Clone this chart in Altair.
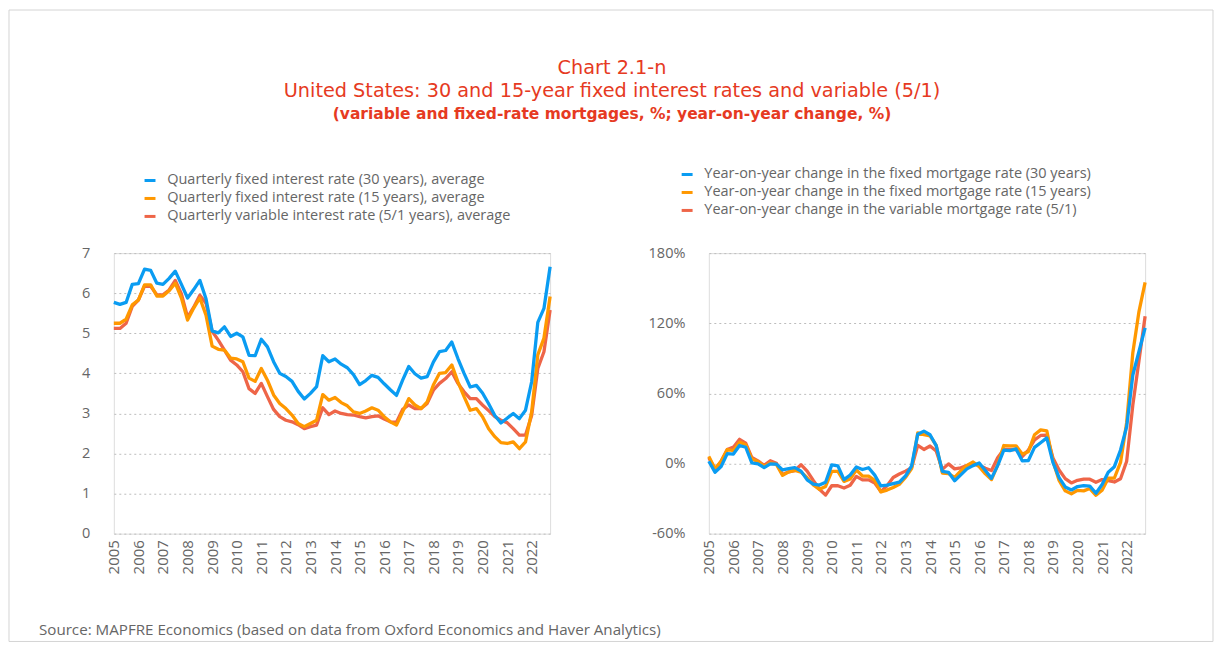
import altair as alt
import pandas as pd

years = list(range(2005, 2023))
quarters = [f"{y}Q{q}" for y in years for q in range(1, 5)]

rate30 = [5.77, 5.72, 5.77, 6.22, 6.24, 6.60, 6.57, 6.25, 6.22, 6.37, 6.55, 6.22,
          5.88, 6.09, 6.32, 5.86, 5.06, 5.01, 5.16, 4.92, 5.00, 4.91, 4.45, 4.44,
          4.85, 4.66, 4.29, 4.00, 3.92, 3.80, 3.55, 3.36, 3.50, 3.67, 4.44, 4.29,
          4.36, 4.23, 4.14, 3.97, 3.72, 3.82, 3.95, 3.90, 3.74, 3.59, 3.45, 3.83,
          4.17, 3.99, 3.88, 3.92, 4.28, 4.54, 4.57, 4.78, 4.37, 4.00, 3.66, 3.70,
          3.51, 3.24, 2.95, 2.76, 2.88, 3.00, 2.87, 3.08, 3.79, 5.27, 5.62, 6.66]
rate15 = [5.25, 5.25, 5.35, 5.71, 5.83, 6.21, 6.21, 5.93, 5.93, 6.06, 6.25, 5.88,
          5.33, 5.63, 5.88, 5.45, 4.68, 4.60, 4.58, 4.38, 4.36, 4.29, 3.88, 3.80,
          4.12, 3.83, 3.46, 3.25, 3.12, 2.96, 2.75, 2.67, 2.75, 2.83, 3.47, 3.33,
          3.40, 3.27, 3.19, 3.04, 3.00, 3.06, 3.14, 3.08, 2.92, 2.79, 2.71, 3.04,
          3.37, 3.21, 3.12, 3.29, 3.71, 4.00, 4.02, 4.21, 3.79, 3.42, 3.08, 3.12,
          2.92, 2.62, 2.42, 2.27, 2.25, 2.29, 2.12, 2.29, 3.04, 4.46, 4.88, 5.92]
arm51 = [5.12, 5.12, 5.25, 5.67, 5.83, 6.18, 6.17, 5.96, 5.96, 6.08, 6.32, 5.98,
         5.40, 5.65, 5.95, 5.75, 5.05, 4.83, 4.58, 4.33, 4.21, 4.04, 3.62, 3.50,
         3.75, 3.42, 3.10, 2.92, 2.83, 2.79, 2.72, 2.62, 2.67, 2.71, 3.14, 2.97,
         3.06, 3.00, 2.97, 2.96, 2.92, 2.89, 2.92, 2.94, 2.86, 2.79, 2.78, 3.10,
         3.21, 3.12, 3.12, 3.25, 3.58, 3.75, 3.87, 4.04, 3.75, 3.54, 3.37, 3.37,
         3.21, 3.07, 2.92, 2.83, 2.77, 2.62, 2.46, 2.46, 2.95, 4.12, 4.54, 5.58]

yoy30 = [2, -7.5, -2.5, 8.5, 8.1, 15.4, 13.9, 0.5, -0.3, -3.5, -0.3, -0.5,
         -5.5, -4.4, -3.5, -6.5, -14, -17.7, -18.4, -16, -1.2, -2, -13.8, -9.8,
         -3, -5.1, -3.6, -9.9, -19.2, -18.5, -17.2, -16, -10.7, -2, 25.1, 27.7,
         24.6, 15.3, -6.8, -7.5, -14.7, -9.7, -4.6, -1.8, 0.5, -6, -12.7, -1.8,
         11.5, 11.1, 12.5, 2.3, 2.6, 13.8, 17.8, 21.9, 1, -12, -20, -22.6,
         -19.7, -19, -19.4, -25.4, -18, -7.4, -2.7, 11.6, 31.6, 75.7, 95.8, 116]
yoy15 = [6.1, -4.5, 1.9, 12, 11, 18.3, 16.1, 3.9, 1.7, -2.4, 0.6, -0.8,
         -10.1, -7.1, -5.9, -7.3, -12.2, -18.3, -22.1, -19.6, -6.8, -6.7, -15.3, -13.2,
         -5.5, -10.7, -10.8, -14.5, -24.3, -22.7, -20.5, -17.8, -11.9, -4.4, 26.2, 24.7,
         23.6, 15.5, -8.1, -8.7, -11.8, -6.4, -1.6, 1.3, -2.7, -8.8, -13.7, -1.3,
         15.4, 15.1, 15.1, 8.2, 10.1, 24.6, 28.8, 28, 2.2, -14.5, -23.4, -25.9,
         -23, -23.4, -21.4, -27.2, -22.9, -12.6, -12.4, 0.9, 35.1, 94.8, 130, 155]
yoy51 = [5, -5, 2, 12, 14, 20.7, 17.5, 5.1, 2.2, -1.6, 2.4, 0.3,
         -9.4, -7.1, -6, -1, -6.5, -14.5, -22, -27, -19, -19, -21, -18.6,
         -11, -14, -14, -16.6, -24, -19, -12, -9, -6.5, -3.5, 15.5, 12,
         15, 10.7, -5, -0.3, -4.6, -3.7, -1.7, -0.5, -1.5, -4, -6, 5,
         12, 12, 12, 6, 11.5, 20.2, 24, 24.3, 4.7, -5.6, -12.9, -16.6,
         -14.4, -13.3, -13.4, -16, -13.7, -14.7, -15.8, -13, 2, 50, 88, 126]

names_left = ["Quarterly fixed interest rate (30 years), average",
              "Quarterly fixed interest rate (15 years), average",
              "Quarterly variable interest rate (5/1 years), average"]
names_right = ["Year-on-year change in the fixed mortgage rate (30 years)",
               "Year-on-year change in the fixed mortgage rate (15 years)",
               "Year-on-year change in the variable mortgage rate (5/1)"]
colors = ["#0a9cf2", "#ff9800", "#ee6548"]

title_line1 = "Chart 2.1-n"
title_line2 = "United States: 30 and 15-year fixed interest rates and variable (5/1)"
subtitle_line = "(variable and fixed-rate mortgages, %; year-on-year change, %)"
source_text = "Source: MAPFRE Economics (based on data from Oxford Economics and Haver Analytics)"

periods = [int(q[:4]) + (int(q[-1]) - 1) / 4 for q in quarters]

FONT = "Open Sans"
TFONT = "DejaVu Sans"
GRAY = "#666666"
RED = "#e63a22"
W, H = 437, 281


def text_mark(txt, x, y, size, color, weight="normal", align="left", font=FONT):
    return alt.Chart(pd.DataFrame({"t": [txt]})).mark_text(
        align=align, baseline="middle", fontSize=size, font=font, color=color,
        fontWeight=weight
    ).encode(x=alt.value(x), y=alt.value(y), text="t:N")


def panel(series, names, ydomain, yvalues, label_expr, lx, ly, extras=()):
    layers = list(extras)
    for k in [2, 1, 0]:
        df = pd.DataFrame({"period": periods, "value": series[k], "series": names[k]})
        layers.append(
            alt.Chart(df).mark_line(strokeWidth=3.3, strokeJoin="round").encode(
                x=alt.X("period:Q",
                        scale=alt.Scale(domain=[2005, 2022.75], nice=False, zero=False),
                        axis=alt.Axis(values=years, format="d", labelAngle=270,
                                      labelAlign="right", labelBaseline="middle",
                                      labelPadding=6, labelFontSize=15, labelColor=GRAY,
                                      labelFont=FONT, grid=False, domain=False, ticks=False,
                                      title=None, labelOverlap=False)),
                y=alt.Y("value:Q",
                        scale=alt.Scale(domain=ydomain, nice=False, zero=False),
                        axis=alt.Axis(values=yvalues, labelExpr=label_expr,
                                      labelPadding=24, labelFontSize=14.5, labelColor=GRAY,
                                      labelFont=FONT, grid=True, gridColor="#bdbdbd",
                                      gridDash=[2, 3], gridWidth=1, domain=False,
                                      ticks=False, title=None)),
                color=alt.Color("series:N",
                                scale=alt.Scale(domain=names, range=colors),
                                legend=alt.Legend(orient="none", legendX=lx, legendY=ly,
                                                  direction="vertical", title=None,
                                                  symbolType="stroke", symbolStrokeWidth=3,
                                                  symbolSize=120, labelFontSize=14.5,
                                                  labelColor=GRAY, labelFont=FONT,
                                                  labelLimit=0, rowPadding=3,
                                                  labelOffset=10, padding=0)),
            )
        )
    return alt.layer(*layers).properties(width=W, height=H)


frame = alt.Chart(pd.DataFrame({"k": [0]})).mark_rect(
    fillOpacity=0, stroke="#d4d4d4", strokeWidth=1
).encode(x=alt.value(-105), x2=alt.value(1101), y=alt.value(-243.5), y2=alt.value(389))

extras_left = [
    frame,
    text_mark(title_line1, 499, -185, 19.3, RED, align="center", font=TFONT),
    text_mark(title_line2, 499, -162, 19.3, RED, align="center", font=TFONT),
    text_mark(subtitle_line, 499, -139, 15.5, RED, weight="bold", align="center", font=TFONT),
    text_mark(source_text, -75, 378, 15.2, GRAY),
]

left = panel([rate30, rate15, arm51], names_left, [0, 7], list(range(0, 8)),
             "datum.value", 29, -80, extras=extras_left)
right = panel([yoy30, yoy15, yoy51], names_right, [-60, 180], [-60, 0, 60, 120, 180],
              "datum.value + '%'", -29, -86)

chart = alt.hconcat(left, right, spacing=159, bounds="flush").resolve_scale(
    color="independent"
).properties(
    padding={"left": 0, "top": 0, "right": 0, "bottom": 0},
).configure_view(stroke=None).configure(background="white")

chart.save("out.html", embed_options={"renderer": "svg", "actions": False})
